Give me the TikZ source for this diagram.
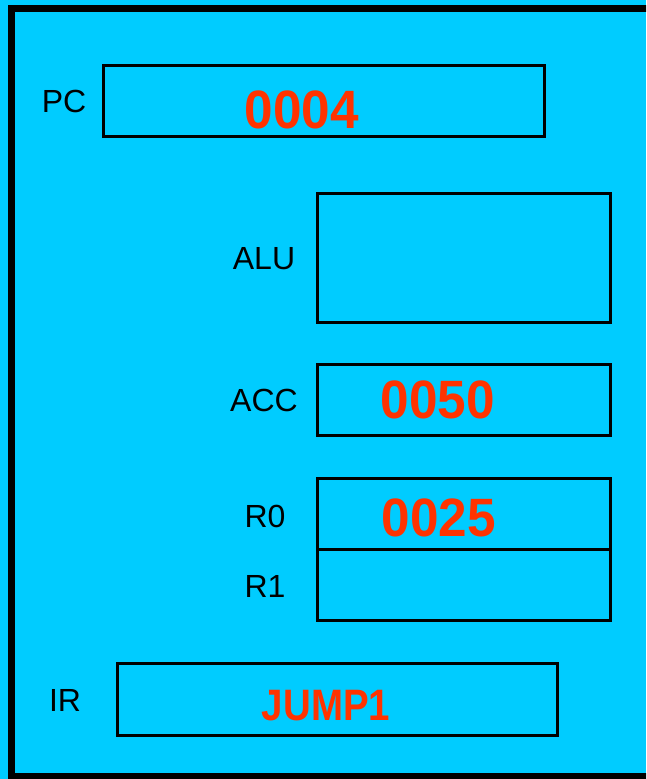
\documentclass[tikz,border=0pt]{standalone}
\usepackage{fontspec}
\setmainfont{Liberation Sans}
\usepackage{xcolor}
\usetikzlibrary{positioning}
\definecolor{cpucyan}{RGB}{0,204,255}
\definecolor{valred}{RGB}{255,51,0}

\begin{document}
\begin{tikzpicture}[
  x=1pt, y=-1pt,
  every node/.style={inner sep=0pt, outer sep=0pt},
  reg/.style={draw=black, line width=3pt, minimum width=293pt, minimum height=71pt},
  lbl/.style={font=\fontsize{32}{32}\selectfont, text=black},
  val/.style={font=\fontsize{54}{54}\selectfont\bfseries, text=valred, xscale=0.95}
]
\fill[cpucyan] (0,0) rectangle (646,779);
\useasboundingbox (0,0) rectangle (646,779);
\begin{scope}
  \clip (0,0) rectangle (646,779);
  \draw[line width=7pt] (11.5,8.5) rectangle (680,776);
\end{scope}

% registers
\node[reg, minimum width=441pt, anchor=north west] (pc) at (103.5,65.5) {};
\node[reg, minimum height=129pt, anchor=north west] (alu) at (317,193) {};
\node[reg, anchor=north west] (acc) at (317,364.5) {};
\node[reg, anchor=north west] (r0) at (317,478.5) {};
\node[reg, anchor=north west] (r1) at (317,549.5) {};
\node[reg, minimum width=440pt, minimum height=72pt, anchor=north west] (ir) at (117.5,663.5) {};

% names
\node[lbl] (pclbl) at (64,101) {PC};
\node[lbl] (alulbl) at (264,259) {ALU};
\node[lbl] (acclbl) at (264,400) {ACC};
\node[lbl] (r0lbl) at (265,516) {R0};
\node[lbl] (r1lbl) at (265,586) {R1};
\node[lbl] (irlbl) at (65,700) {IR};

% contents
\node[val] (pcval) at (302,110) {0004};
\node[val] (accval) at (438,400) {0050};
\node[val] (r0val) at (439,518) {0025};
\node[val, font=\fontsize{44}{44}\selectfont\bfseries, xscale=0.92] (irval) at (326,706) {JUMP1};
\end{tikzpicture}
\end{document}
